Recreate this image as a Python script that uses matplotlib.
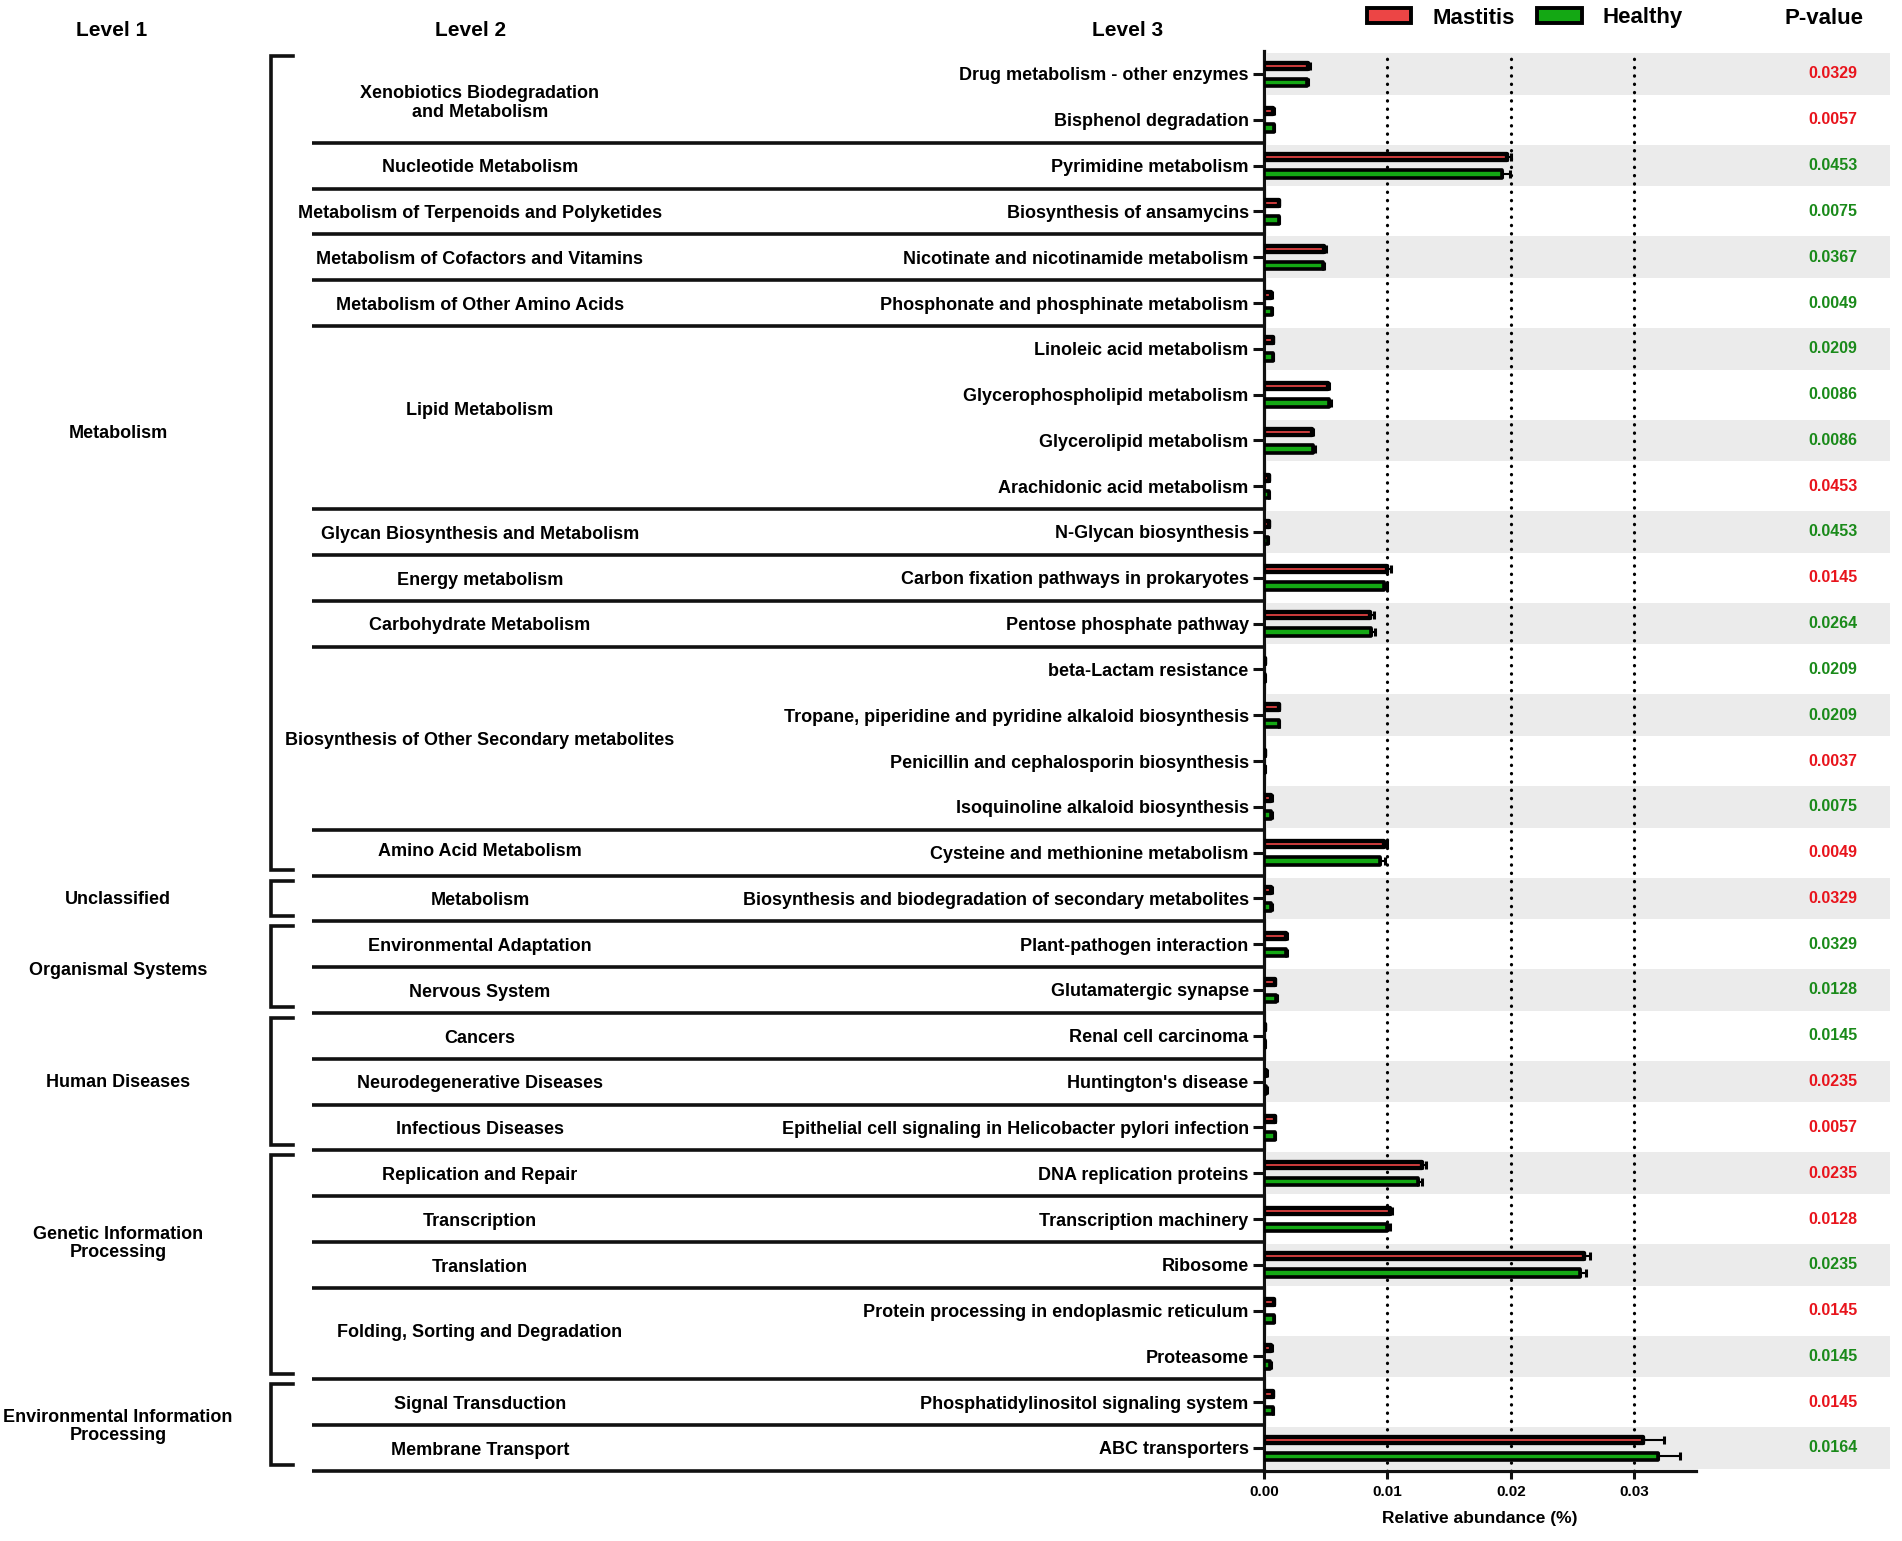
import matplotlib
matplotlib.use('Agg')
import matplotlib.pyplot as plt
from matplotlib.patches import Patch
import numpy as np

plt.rcParams['font.family'] = ['Liberation Sans', 'DejaVu Sans']
plt.rcParams['font.weight'] = 'bold'

# ---------------- data ----------------
level3 = [
    "Drug metabolism - other enzymes", "Bisphenol degradation", "Pyrimidine metabolism",
    "Biosynthesis of ansamycins", "Nicotinate and nicotinamide metabolism",
    "Phosphonate and phosphinate metabolism", "Linoleic acid metabolism",
    "Glycerophospholipid metabolism", "Glycerolipid metabolism", "Arachidonic acid metabolism",
    "N-Glycan biosynthesis", "Carbon fixation pathways in prokaryotes", "Pentose phosphate pathway",
    "beta-Lactam resistance", "Tropane, piperidine and pyridine alkaloid biosynthesis",
    "Penicillin and cephalosporin biosynthesis", "Isoquinoline alkaloid biosynthesis",
    "Cysteine and methionine metabolism", "Biosynthesis and biodegradation of secondary metabolites",
    "Plant-pathogen interaction", "Glutamatergic synapse", "Renal cell carcinoma",
    "Huntington's disease", "Epithelial cell signaling in Helicobacter pylori infection",
    "DNA replication proteins", "Transcription machinery", "Ribosome",
    "Protein processing in endoplasmic reticulum", "Proteasome",
    "Phosphatidylinositol signaling system", "ABC transporters",
]
mastitis = [0.0036, 0.00075, 0.0197, 0.0012, 0.0049, 0.0006, 0.0007, 0.0052, 0.0039, 0.0004,
            0.0004, 0.0100, 0.0086, 0.0001, 0.0012, 0.0001, 0.0006, 0.0097, 0.0006, 0.0018,
            0.0009, 0.0001, 0.0002, 0.0009, 0.0128, 0.0102, 0.0259, 0.0008, 0.0006, 0.0007, 0.0307]
healthy = [0.0035, 0.0008, 0.0193, 0.0012, 0.0048, 0.00065, 0.0007, 0.0053, 0.0040, 0.0004,
           0.0003, 0.0097, 0.0087, 0.0001, 0.0012, 0.0001, 0.0006, 0.0094, 0.0006, 0.0018,
           0.0010, 0.0001, 0.0002, 0.0009, 0.0125, 0.0100, 0.0256, 0.0008, 0.0005, 0.0007, 0.0319]
mastitis_err = [0.0001, 0.00003, 0.0003, 0.00005, 0.0001, 0.00003, 0.00003, 0.0001, 0.0001, 0.00002,
                0.00002, 0.0003, 0.0003, 0.00001, 0.00005, 0.00001, 0.00003, 0.0003, 0.00003, 0.00005,
                0.00003, 0.00001, 0.00001, 0.00003, 0.0003, 0.0002, 0.0005, 0.00003, 0.00003, 0.00003, 0.0017]
healthy_err = [0.0001, 0.00003, 0.0006, 0.00005, 0.0001, 0.00003, 0.00003, 0.0001, 0.0001, 0.00002,
               0.00002, 0.0003, 0.0003, 0.00001, 0.00005, 0.00001, 0.00003, 0.0004, 0.00003, 0.00005,
               0.00003, 0.00001, 0.00001, 0.00003, 0.0003, 0.0002, 0.0005, 0.00003, 0.00003, 0.00003, 0.0018]
p_values = ["0.0329", "0.0057", "0.0453", "0.0075", "0.0367", "0.0049", "0.0209", "0.0086", "0.0086",
            "0.0453", "0.0453", "0.0145", "0.0264", "0.0209", "0.0209", "0.0037", "0.0075", "0.0049",
            "0.0329", "0.0329", "0.0128", "0.0145", "0.0235", "0.0057", "0.0235", "0.0128", "0.0235",
            "0.0145", "0.0145", "0.0145", "0.0164"]
p_group = ["M", "M", "H", "H", "H", "H", "H", "H", "H", "M", "H", "M", "H", "H", "H", "M", "H", "M",
           "M", "H", "H", "H", "M", "M", "M", "M", "H", "M", "H", "M", "H"]
level2_names = [
    "Xenobiotics Biodegradation\nand Metabolism", "Nucleotide Metabolism",
    "Metabolism of Terpenoids and Polyketides", "Metabolism of Cofactors and Vitamins",
    "Metabolism of Other Amino Acids", "Lipid Metabolism", "Glycan Biosynthesis and Metabolism",
    "Energy metabolism", "Carbohydrate Metabolism", "Biosynthesis of Other Secondary metabolites",
    "Amino Acid Metabolism", "Metabolism", "Environmental Adaptation", "Nervous System",
    "Cancers", "Neurodegenerative Diseases", "Infectious Diseases", "Replication and Repair",
    "Transcription", "Translation", "Folding, Sorting and Degradation", "Signal Transduction",
    "Membrane Transport",
]
level2_sizes = [2, 1, 1, 1, 1, 4, 1, 1, 1, 4, 1, 1, 1, 1, 1, 1, 1, 1, 1, 1, 2, 1, 1]
level1_names = ["Metabolism", "Unclassified", "Organismal Systems", "Human Diseases",
                "Genetic Information\nProcessing", "Environmental Information\nProcessing"]
level1_sizes = [18, 1, 2, 3, 5, 2]
xticks = [0.0, 0.01, 0.02, 0.03]
legend_labels = ["Mastitis", "Healthy"]

# ---------------- style ----------------
RED = '#ec4545'
GREEN = '#14a814'
P_RED = '#e8141c'
P_GREEN = '#1a8a1a'
GREY = '#ebebeb'
INK = '#111111'

W, H = 1902, 1541
fig = plt.figure(figsize=(W / 100, H / 100), dpi=100)

n = len(level3)
row0_px, row_px = 74.0, 45.8
top_px = row0_px - 0.5 * row_px
bot_px = row0_px + (n - 0.5) * row_px
ax_b = 1 - bot_px / H
ax_h = (bot_px - top_px) / H
ax_l_px, ax_r_px = 1264, 1696

ax0 = fig.add_axes([0, ax_b, 1, ax_h])
ax0.set_xlim(0, W)
ax0.set_ylim(n - 0.5, -0.5)
ax0.axis('off')
ax0.set_zorder(0)

ax = fig.add_axes([ax_l_px / W, ax_b, (ax_r_px - ax_l_px) / W, ax_h])
ax.set_zorder(1)
ax.patch.set_alpha(0)

y = np.arange(n)

# grey stripes
ax0.barh(y[::2], 1890 - (ax_l_px + 3), left=ax_l_px + 3, height=0.91, color=GREY, zorder=0)

# bars
off = 0.182
zeros = np.zeros(n)
ekw = dict(ecolor='black', elinewidth=1.5, capsize=3.1, capthick=2.2, zorder=4)
bm = ax.barh(y - off, mastitis, height=0.13, color=RED, edgecolor='black', linewidth=3.1,
             xerr=[zeros, mastitis_err], error_kw=ekw, zorder=3)
bh = ax.barh(y + off, healthy, height=0.165, color=GREEN, edgecolor='black', linewidth=2.6,
             xerr=[zeros, healthy_err], error_kw=ekw, zorder=3)
for p in list(bm.patches) + list(bh.patches):
    p.set_joinstyle('round')

for xv in xticks[1:]:
    ax.axvline(xv, color='black', lw=2.3, linestyle=(0, (0.1, 2.5)), dash_capstyle='round', zorder=1)

ax.set_xlim(0, 0.035)
ax.set_ylim(n - 0.5, -0.5)
for s in ['top', 'right']:
    ax.spines[s].set_visible(False)
for s in ['left', 'bottom']:
    ax.spines[s].set_linewidth(2.3)
    ax.spines[s].set_color(INK)
ax.set_yticks(y, level3, fontsize=13, fontweight='bold')
ax.tick_params(axis='y', length=8, width=2.2, pad=3, color=INK)
ax.set_xticks(xticks, [f'{v:.2f}' for v in xticks], fontsize=11, fontweight='bold')
ax.tick_params(axis='x', length=6, width=2.2, pad=4, color=INK)
ax.set_xlabel('Relative abundance (%)', fontsize=12.5, fontweight='bold', labelpad=9)

# level 2 separators and labels
ends2 = np.cumsum(level2_sizes)
starts2 = ends2 - np.array(level2_sizes)
ax0.hlines(ends2 - 0.5, 312, ax_l_px, color=INK, lw=2.6, clip_on=False)
shift2 = np.zeros(len(level2_sizes))
shift2[0] = 0.08
shift2[5] = -0.2
shift2[10] = -0.08
shift2[20] = -0.08
for name, s, k, sh in zip(level2_names, starts2, level2_sizes, shift2):
    ax0.text(480, s + (k - 1) / 2 + 0.05 + sh, name, ha='center', va='center', fontsize=13,
             fontweight='bold', linespacing=1.1)

# level 1 brackets and labels
ends1 = np.cumsum(level1_sizes)
starts1 = ends1 - np.array(level1_sizes)
label_shift = [-0.68, 0, 0.05, 0, -0.5, 0]
for name, s, k, sh in zip(level1_names, starts1, level1_sizes, label_shift):
    t = s - 0.5 + 0.11
    b = s + k - 0.5 - 0.12
    ax0.plot([293, 271, 271, 293], [t, t, b, b], color=INK, lw=2.6,
             solid_joinstyle='miter', clip_on=False)
    ax0.text(118, s + (k - 1) / 2 + sh + 0.03, name, ha='center', va='center', fontsize=13,
             fontweight='bold', linespacing=1.1)

# p-values
for i, (pv, g) in enumerate(zip(p_values, p_group)):
    ax0.text(1833, i, pv, ha='center', va='center', fontsize=11.5, fontweight='bold',
             color=P_RED if g == 'M' else P_GREEN)

# headers
for txt, xp in [("Level 1", 112), ("Level 2", 471), ("Level 3", 1128)]:
    fig.text(xp / W, 1 - 30 / H, txt, ha='center', va='center', fontsize=15, fontweight='bold')
fig.text(1824 / W, 1 - 18 / H, "P-value", ha='center', va='center', fontsize=16, fontweight='bold')

handles = [Patch(facecolor=RED, edgecolor='black', linewidth=2.8),
           Patch(facecolor=GREEN, edgecolor='black', linewidth=2.8)]
fig.legend(handles, legend_labels, loc='center left', bbox_to_anchor=(1367 / W, 1 - 18 / H),
           ncol=2, frameon=False, prop={'weight': 'bold', 'size': 16}, handlelength=2.0,
           handleheight=0.64, handletextpad=0.95, columnspacing=1.0, borderpad=0, borderaxespad=0)

fig.savefig('out.png', dpi=100)
